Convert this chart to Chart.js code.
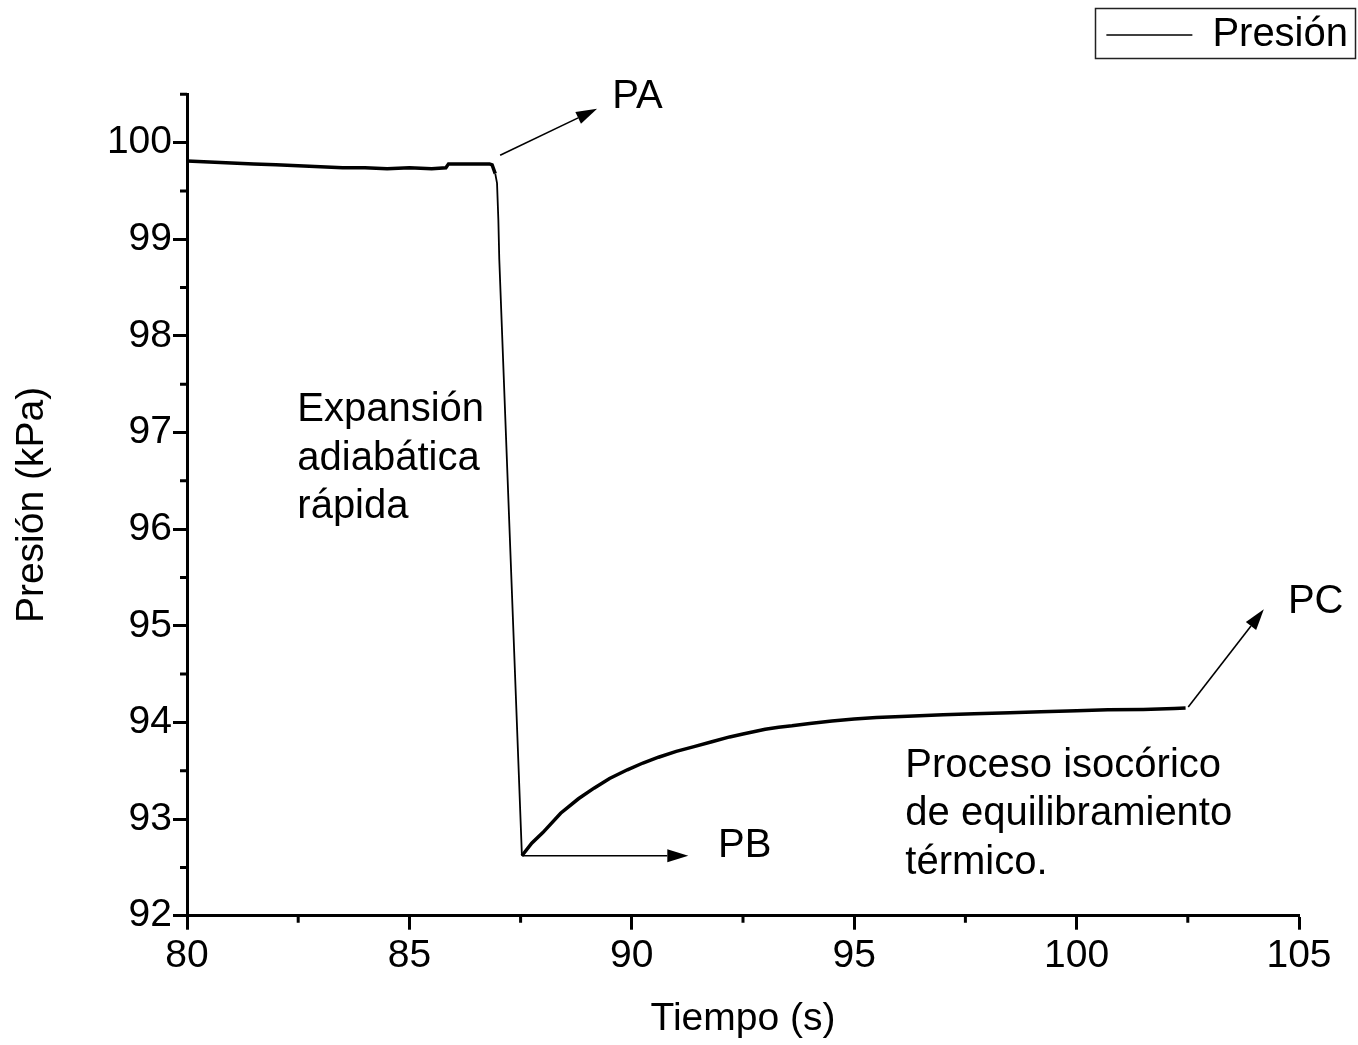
<!DOCTYPE html>
<html><head><meta charset="utf-8">
<script src="https://cdn.jsdelivr.net/npm/chart.js@4.4.1/dist/chart.umd.min.js"></script>
<style>html,body{margin:0;padding:0;background:#fff;overflow:hidden}#wrap{width:1358px;height:1045px}</style>
</head><body><div id="wrap"><canvas id="c" width="1358" height="1045"></canvas></div>
<script>
// ---- data ----
const timeS = [80.0, 80.5, 81.0, 81.5, 82.0, 82.5, 83.0, 83.5, 84.0, 84.5, 85.0, 85.5, 85.82, 85.88, 86.3, 86.8, 86.86, 86.93, 86.97, 87.0, 87.02, 87.53, 87.75, 88.0, 88.4, 88.8, 89.15, 89.5, 89.9, 90.25, 90.6, 91.0, 91.4, 91.8, 92.2, 92.5, 93.0, 93.3, 93.6, 94.0, 94.5, 95.0, 95.5, 96.2, 97.0, 97.7, 98.5, 99.2, 100.0, 100.7, 101.5, 102.2, 102.45];
const pressureKPa = [99.81, 99.80, 99.79, 99.78, 99.77, 99.76, 99.75, 99.74, 99.74, 99.73, 99.74, 99.73, 99.74, 99.78, 99.78, 99.78, 99.77, 99.68, 99.58, 99.20, 98.80, 92.62, 92.75, 92.86, 93.06, 93.21, 93.32, 93.42, 93.51, 93.58, 93.64, 93.70, 93.75, 93.80, 93.85, 93.88, 93.93, 93.95, 93.965, 93.99, 94.015, 94.035, 94.05, 94.065, 94.08, 94.09, 94.10, 94.11, 94.12, 94.13, 94.135, 94.145, 94.15];
const seriesLabel = 'Presión';
const xAxisTitle = 'Tiempo (s)';
const yAxisTitle = 'Presión (kPa)';
const xMajorTicks = [80, 85, 90, 95, 100, 105];
const xMinorTicks = [82.5, 87.5, 92.5, 97.5, 102.5];
const yMajorTicks = [92, 93, 94, 95, 96, 97, 98, 99, 100];
const yMinorTicks = [92.5, 93.5, 94.5, 95.5, 96.5, 97.5, 98.5, 99.5, 100.5];
// annotation arrows: [fromX, fromY, toX, toY] in data units
const arrowPA = [87.04, 99.87, 89.22, 100.35];
const arrowPB = [87.53, 92.62, 91.27, 92.62];
const arrowPC = [102.51, 94.16, 104.21, 95.17];
// annotation texts: lines and anchor (left, first-line middle) in data units
const notePA = {lines: ['PA'], x: 89.56, y: 100.47};
const notePB = {lines: ['PB'], x: 91.94, y: 92.72};
const notePC = {lines: ['PC'], x: 104.75, y: 95.25};
const noteExp = {lines: ['Expansión', 'adiabática', 'rápida'], x: 82.48, y: 97.23};
const noteIso = {lines: ['Proceso isocórico', 'de equilibramiento', 'térmico.'], x: 96.15, y: 93.55};

const FONT = "'Liberation Sans', Arial, Helvetica, sans-serif";
Chart.defaults.font.family = FONT;
Chart.defaults.color = '#000';

const extras = {
  id: 'extras',
  afterLayout(chart) {
    const lg = chart.legend;
    if (lg) { const h = lg.bottom - lg.top; lg.top = 5; lg.bottom = 5 + h; }
  },
  afterDraw(chart) {
    const {ctx, scales: {x, y}, chartArea: ca} = chart;
    ctx.save();
    // minor ticks
    ctx.strokeStyle = '#000'; ctx.lineWidth = 3;
    ctx.beginPath();
    yMinorTicks.forEach(v => { const p = y.getPixelForValue(v); ctx.moveTo(ca.left - 7, p); ctx.lineTo(ca.left, p); });
    xMinorTicks.forEach(v => { const p = x.getPixelForValue(v); ctx.moveTo(p, ca.bottom); ctx.lineTo(p, ca.bottom + 7); });
    ctx.stroke();
    // arrows
    const arrow = (a) => {
      const x1 = x.getPixelForValue(a[0]), y1 = y.getPixelForValue(a[1]);
      const x2 = x.getPixelForValue(a[2]), y2 = y.getPixelForValue(a[3]);
      const ang = Math.atan2(y2 - y1, x2 - x1), L = 21, W = 6.5;
      ctx.lineWidth = 1.6; ctx.strokeStyle = '#000'; ctx.fillStyle = '#000';
      ctx.beginPath(); ctx.moveTo(x1, y1);
      ctx.lineTo(x2 - L * Math.cos(ang), y2 - L * Math.sin(ang)); ctx.stroke();
      ctx.beginPath(); ctx.moveTo(x2, y2);
      ctx.lineTo(x2 - L * Math.cos(ang) + W * Math.sin(ang), y2 - L * Math.sin(ang) - W * Math.cos(ang));
      ctx.lineTo(x2 - L * Math.cos(ang) - W * Math.sin(ang), y2 - L * Math.sin(ang) + W * Math.cos(ang));
      ctx.closePath(); ctx.fill();
    };
    [arrowPA, arrowPB, arrowPC].forEach(arrow);
    // texts
    ctx.font = '40px ' + FONT; ctx.fillStyle = '#000';
    ctx.textAlign = 'left'; ctx.textBaseline = 'middle';
    [notePA, notePB, notePC, noteExp, noteIso].forEach(n => {
      const px = x.getPixelForValue(n.x), py = y.getPixelForValue(n.y);
      n.lines.forEach((t, i) => ctx.fillText(t, px, py + i * 48.5));
    });
    // legend frame
    const hb = chart.legend.legendHitBoxes[0];
    if (hb) {
      ctx.lineWidth = 1.5; ctx.strokeStyle = '#222';
      ctx.strokeRect(Math.round(hb.left - 11) + 0.5, Math.round(hb.top - 7) + 0.5, Math.round(hb.width + 18), Math.round(hb.height + 10));
    }
    ctx.restore();
  }
};

new Chart(document.getElementById('c'), {
  type: 'line',
  data: {
    datasets: [{
      label: seriesLabel,
      data: timeS.map((t, i) => ({x: t, y: pressureKPa[i]})),
      borderColor: '#000', backgroundColor: '#000',
      borderWidth: 3.5, pointRadius: 0, tension: 0, fill: false,
      segment: {
        borderWidth: c => Math.abs(c.p1.y - c.p0.y) > 3 * Math.abs(c.p1.x - c.p0.x) ? 1.8 : 3.5
      }
    }]
  },
  options: {
    responsive: false, animation: false,
    layout: {padding: 0},
    plugins: {
      tooltip: {enabled: false},
      legend: {
        display: true, position: 'top', align: 'end',
        labels: {
          usePointStyle: true, pointStyle: 'line', pointStyleWidth: 86,
          padding: 10, color: '#000', font: {size: 40, family: FONT},
          generateLabels(chart) {
            const items = Chart.defaults.plugins.legend.labels.generateLabels(chart);
            items.forEach(it => { it.lineWidth = 1.5; it.strokeStyle = '#000'; it.pointStyle = 'line'; });
            return items;
          }
        }
      }
    },
    scales: {
      x: {
        type: 'linear', min: 80, max: 105,
        afterBuildTicks: s => { s.ticks = xMajorTicks.map(v => ({value: v})); },
        afterFit: s => { s.height = 129.3; s.paddingRight = 59; },
        ticks: {font: {size: 39}, color: '#000', padding: 3, maxRotation: 0, autoSkip: false},
        grid: {drawOnChartArea: false, drawTicks: true, tickLength: 14, tickWidth: 3, tickColor: '#000'},
        border: {display: true, color: '#000', width: 3},
        title: {display: true, text: xAxisTitle, color: '#000', font: {size: 39}, padding: {top: 0, bottom: 2}}
      },
      y: {
        type: 'linear', min: 92, max: 100.5,
        afterBuildTicks: s => { s.ticks = yMajorTicks.map(v => ({value: v})); },
        afterFit: s => { s.width = 187; s.paddingTop = 94.3; },
        ticks: {font: {size: 39}, color: '#000', padding: 1, autoSkip: false},
        grid: {drawOnChartArea: false, drawTicks: true, tickLength: 14, tickWidth: 3, tickColor: '#000'},
        border: {display: true, color: '#000', width: 3},
        title: {display: true, text: yAxisTitle, color: '#000', font: {size: 39}, padding: {top: 9, bottom: 0}}
      }
    }
  },
  plugins: [extras]
});
</script></body></html>
